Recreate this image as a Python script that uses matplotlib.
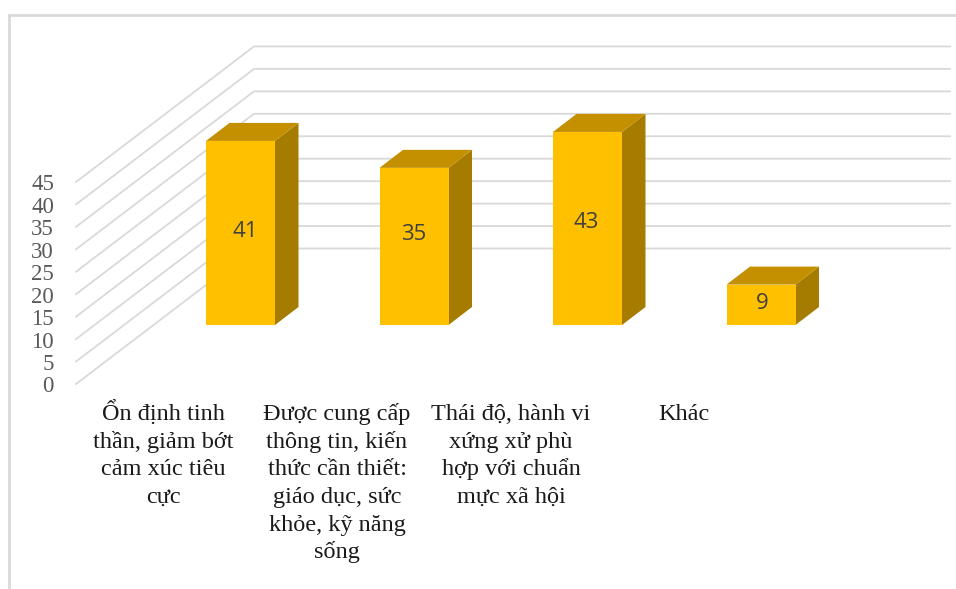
#!/usr/bin/env python3
"""Cot 3D gia lap: ty le theo tung nhom, ve bang polygon tren truc (nhom, gia tri)."""
import matplotlib
matplotlib.use("Agg")
import matplotlib.pyplot as plt
from matplotlib.patches import Polygon

categories = [
    "Ổn định tinh\nthần, giảm bớt\ncảm xúc tiêu\ncực",
    "Được cung cấp\nthông tin, kiến\nthức cần thiết:\ngiáo dục, sức\nkhỏe, kỹ năng\nsống",
    "Thái độ, hành vi\nxứng xử phù\nhợp với chuẩn\nmực xã hội",
    "Khác",
]
values = [41, 35, 43, 9]
y_ticks = [0, 5, 10, 15, 20, 25, 30, 35, 40, 45]

C_FRONT = "#FFC000"
C_TOP = "#C49000"
C_SIDE = "#A67C00"
C_GRID = "#D9D9D9"
C_TICK = "#595959"
C_LABEL = "#404040"

W, H = 956, 589
PX_CAT = 173.5     # px giua hai nhom
PX_VAL = 4.49      # px cho mot don vi
X0, Y0 = 240.5, 325  # tam cot dau tien, chan cot

fig = plt.figure(figsize=(W / 100, H / 100), dpi=100, facecolor="white")
ax = fig.add_axes([0, 0, 1, 1])
# truc x tinh theo nhom, truc y theo gia tri, phu ca hinh
ax.set_xlim(-X0 / PX_CAT, (W - X0) / PX_CAT)
ax.set_ylim((Y0 - H) / PX_VAL, Y0 / PX_VAL)
ax.axis("off")


def dx(px):
    return px / PX_CAT


def dy(px):
    return px / PX_VAL


# khung ngoai: chi thay canh trai va canh tren
ax.plot([dx(9) - X0 / PX_CAT] * 2 + [(W - X0) / PX_CAT],
        [(Y0 - H) / PX_VAL, (Y0 - 15) / PX_VAL, (Y0 - 15) / PX_VAL],
        color=C_GRID, lw=2.0, solid_joinstyle="miter")

# luoi: doan cheo tren nen va doan ngang tren tuong sau
front_x, back_x, end_x = (76 - X0) / PX_CAT, (254 - X0) / PX_CAT, (950 - X0) / PX_CAT
front_off, back_off = dy(Y0 - 384), dy(Y0 - 248.5)
for v in y_ticks:
    ax.plot([front_x, back_x, end_x],
            [v + front_off, v + back_off, v + back_off],
            color=C_GRID, lw=1.3, zorder=1)
    ax.text(front_x - dx(22), v + front_off - dy(8.5), str(v), ha="right", va="baseline",
            fontsize=16.5, color=C_TICK, family="Liberation Serif")

half = dx(34.5)
depth_x, depth_y = dx(23.5), dy(18)
# so lech nhan so so voi tam cot (px), nhan khong nam dung giua cot
label_shift_x = [4.5, 0, -1.5, 1]
label_shift_y = [4, 14.5, 8.5, 4]
for i, v in enumerate(values):
    left, right = i - half, i + half
    front = [(left, 0), (right, 0), (right, v), (left, v)]
    side = [(right, 0), (right + depth_x, depth_y),
            (right + depth_x, v + depth_y), (right, v)]
    top = [(left, v), (right, v), (right + depth_x, v + depth_y),
           (left + depth_x, v + depth_y)]
    ax.add_patch(Polygon(side, closed=True, fc=C_SIDE, ec="none", zorder=3))
    ax.add_patch(Polygon(top, closed=True, fc=C_TOP, ec="none", zorder=3))
    ax.add_patch(Polygon(front, closed=True, fc=C_FRONT, ec="none", zorder=4))
    ax.text(i + dx(label_shift_x[i]), v / 2 + dy(label_shift_y[i]), str(v),
            ha="center", va="center_baseline",
            fontsize=16, color=C_LABEL, family="Open Sans", zorder=5)

# nhan nhom: tung dong mot de khoang cach dong deu, dau tieng Viet khong lam lech
label_x = [163, 337, 511, 684]
for cat, lx in zip(categories, label_x):
    for k, line in enumerate(cat.split("\n")):
        ax.text((lx - X0) / PX_CAT, dy(Y0 - 420.5 - 27.5 * k), line,
                ha="center", va="baseline", fontsize=17.5,
                color="#1A1A1A", family="Liberation Serif")

fig.savefig("out.png", dpi=100, facecolor="white")
plt.close(fig)
